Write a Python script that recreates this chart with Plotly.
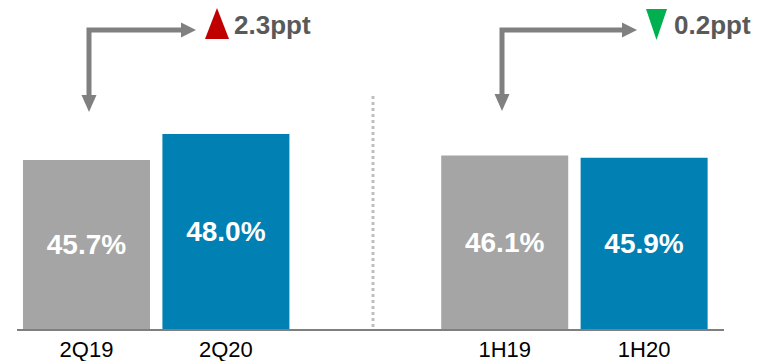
import plotly.graph_objects as go

# ---- data ----
categories = ["2Q19", "2Q20", "1H19", "1H20"]
values = [45.7, 48.0, 46.1, 45.9]
bar_colors = ["#A5A5A5", "#0080B3", "#A5A5A5", "#0080B3"]
axis_order = ["2Q19", "2Q20", " ", "1H19", "1H20"]
delta_labels = ["2.3ppt", "0.2ppt"]

Y0, Y1 = 30.74, 59.85  # visible value range (axis does not start at zero)

W, H = 757, 361
ML, MR, MT, MB = 17, 33, 0, 32
PW, PH = W - ML - MR, H - MT - MB


def px(x):
    return (x - ML) / PW


def py(y):
    return (H - MB - y) / PH


fig = go.Figure(
    go.Bar(
        x=categories,
        y=[v - Y0 for v in values],
        base=Y0,
        text=[f"{v:.1f}%" for v in values],
        marker=dict(color=bar_colors, line=dict(width=0)),
        width=0.911,
        textposition="inside",
        insidetextanchor="middle",
        textangle=0,
        textfont=dict(family="Liberation Sans, Arial", size=28, color="white", weight="bold"),
        hoverinfo="skip",
    )
)

shapes = []
arrow_col = "#808080"
shapes.append(dict(type="line", xref="paper", yref="paper", x0=px(373), x1=px(373),
                   y0=py(96), y1=py(329), line=dict(color="#BFBFBF", width=3, dash="dot")))


def elbow(xv, xh_end, y_top, y_tip):
    s = []
    s.append(dict(type="path", xref="paper", yref="paper",
                  path=f"M {px(xv)},{py(y_tip - 15)} L {px(xv)},{py(y_top)} L {px(xh_end - 14)},{py(y_top)}",
                  line=dict(color=arrow_col, width=5)))
    s.append(dict(type="path", xref="paper", yref="paper",
                  path=f"M {px(xv - 7.5)},{py(y_tip - 17)} L {px(xv + 7.5)},{py(y_tip - 17)} L {px(xv)},{py(y_tip)} Z",
                  fillcolor=arrow_col, line=dict(width=0)))
    s.append(dict(type="path", xref="paper", yref="paper",
                  path=f"M {px(xh_end - 15)},{py(y_top - 7.5)} L {px(xh_end - 15)},{py(y_top + 7.5)} L {px(xh_end)},{py(y_top)} Z",
                  fillcolor=arrow_col, line=dict(width=0)))
    return s


shapes += elbow(89, 196, 30, 112)
shapes += elbow(502, 637, 30, 111)

shapes.append(dict(type="path", xref="paper", yref="paper",
                   path=f"M {px(205)},{py(39)} L {px(229)},{py(39)} L {px(217)},{py(8)} Z",
                   fillcolor="#C00000", line=dict(width=0)))
shapes.append(dict(type="path", xref="paper", yref="paper",
                   path=f"M {px(646)},{py(9)} L {px(667)},{py(9)} L {px(656.5)},{py(40)} Z",
                   fillcolor="#00B050", line=dict(width=0)))

annotations = [
    dict(xref="paper", yref="paper", x=px(232), y=py(25), xanchor="left", yanchor="middle",
         text=delta_labels[0], showarrow=False,
         font=dict(family="Liberation Sans, Arial", size=26, color="#595959", weight="bold")),
    dict(xref="paper", yref="paper", x=px(672), y=py(25), xanchor="left", yanchor="middle",
         text=delta_labels[1], showarrow=False,
         font=dict(family="Liberation Sans, Arial", size=26, color="#595959", weight="bold")),
]

fig.update_layout(
    width=W, height=H,
    margin=dict(l=ML, r=MR, t=MT, b=MB, pad=0),
    paper_bgcolor="white", plot_bgcolor="white",
    showlegend=False,
    shapes=shapes,
    annotations=annotations,
    xaxis=dict(type="category", categoryorder="array", categoryarray=axis_order,
               range=[-0.4986, 4.573], showline=True, linecolor="#7F7F7F", linewidth=2,
               showgrid=False, zeroline=False, ticks="",
               tickfont=dict(family="Liberation Sans, Arial", size=22, color="black")),
    yaxis=dict(range=[Y0, Y1], visible=False, showgrid=False, zeroline=False),
)

fig.write_html("out.html", config={"displayModeBar": False},
               post_script="document.body.style.margin='0';document.body.style.overflow='hidden';")
